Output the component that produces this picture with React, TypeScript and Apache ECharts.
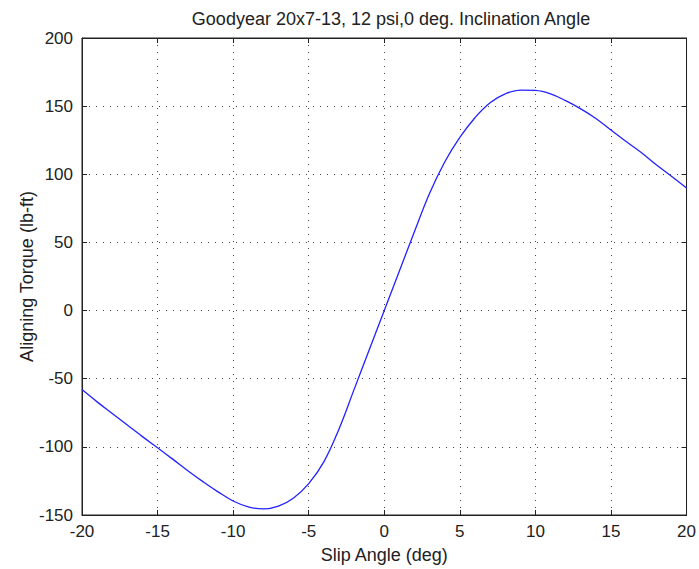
import React, { useEffect, useRef } from "react";
import * as echarts from "echarts";

const titleText = "Goodyear 20x7-13, 12 psi,0 deg. Inclination Angle";
const xName = "Slip Angle (deg)";
const yName = "Aligning Torque (lb-ft)";

const slipAngle = [
  -20, -19, -18, -17, -16, -15, -14, -13, -12, -11, -10, -9, -8, -7, -6, -5, -4, -3, -2, -1,
  0, 1, 2, 3, 4, 5, 6, 7, 8, 9, 10, 11, 12, 13, 14, 15, 16, 17, 18, 19, 20,
];
const torque = [
  -58, -67, -75.5, -84, -92.5, -100.7, -109, -117.5, -125.5, -133, -139.7, -144, -145.5, -143.5, -137.5, -127, -111, -87, -58, -29,
  0, 29, 58, 86, 109, 127, 141.5, 152.5, 159, 161.8, 161.5, 159, 154, 148, 141, 132.5, 124, 116, 107, 98.5, 90,
];

const xMin = -20, xMax = 20, xStep = 5;
const yMin = -150, yMax = 200, yStep = 50;

export default function App() {
  const ref = useRef<HTMLDivElement>(null);
  useEffect(() => {
    if (!ref.current) return;
    const chart = echarts.init(ref.current, null, { renderer: "svg" });
    const font = "Arial, 'Liberation Sans', Helvetica, sans-serif";
    const gridLine = { show: true, lineStyle: { type: [1, 6] as any, color: "#444", width: 1 } };
    const frameTick = { show: true, inside: true, length: 5, lineStyle: { color: "#222" } };
    chart.setOption({
      animation: false,
      backgroundColor: "#ffffff",
      title: {
        text: titleText,
        left: 386,
        textAlign: "center",
        top: 5,
        textStyle: { fontFamily: font, fontSize: 18, fontWeight: "normal", color: "#222" },
      },
      grid: { left: 82, right: 8, top: 38, bottom: 52, show: true, borderColor: "#222", borderWidth: 1 },
      xAxis: [
        {
          type: "value",
          min: xMin,
          max: xMax,
          interval: xStep,
          name: xName,
          nameLocation: "middle",
          nameGap: 31,
          nameMoveOverlap: false,
          nameTextStyle: { fontFamily: font, fontSize: 18, color: "#222" },
          axisLine: { show: true, onZero: false, lineStyle: { color: "#222" } },
          axisTick: frameTick,
          axisLabel: { fontFamily: font, fontSize: 17, color: "#222", margin: 8 },
          splitLine: gridLine,
        },
        {
          type: "value",
          position: "top",
          min: xMin,
          max: xMax,
          interval: xStep,
          axisLine: { show: true, onZero: false, lineStyle: { color: "#222" } },
          axisTick: frameTick,
          axisLabel: { show: false },
          splitLine: { show: false },
        },
      ],
      yAxis: [
        {
          type: "value",
          min: yMin,
          max: yMax,
          interval: yStep,
          name: yName,
          nameLocation: "middle",
          nameGap: 46,
          nameMoveOverlap: false,
          nameTextStyle: { fontFamily: font, fontSize: 18, color: "#222" },
          axisLine: { show: true, onZero: false, lineStyle: { color: "#222" } },
          axisTick: frameTick,
          axisLabel: { fontFamily: font, fontSize: 17, color: "#222", margin: 9 },
          splitLine: gridLine,
        },
        {
          type: "value",
          position: "right",
          min: yMin,
          max: yMax,
          interval: yStep,
          axisLine: { show: true, onZero: false, lineStyle: { color: "#222" } },
          axisTick: frameTick,
          axisLabel: { show: false },
          splitLine: { show: false },
        },
      ],
      series: [
        {
          type: "line",
          xAxisIndex: 0,
          yAxisIndex: 0,
          data: slipAngle.map((x, i) => [x, torque[i]]),
          smooth: 0.4,
          showSymbol: false,
          lineStyle: { color: "#2222ff", width: 1.3 },
        },
      ],
    });
    return () => chart.dispose();
  }, []);
  return <div ref={ref} style={{ width: 699, height: 569, position: "absolute", left: 0, top: 0 }} />;
}
